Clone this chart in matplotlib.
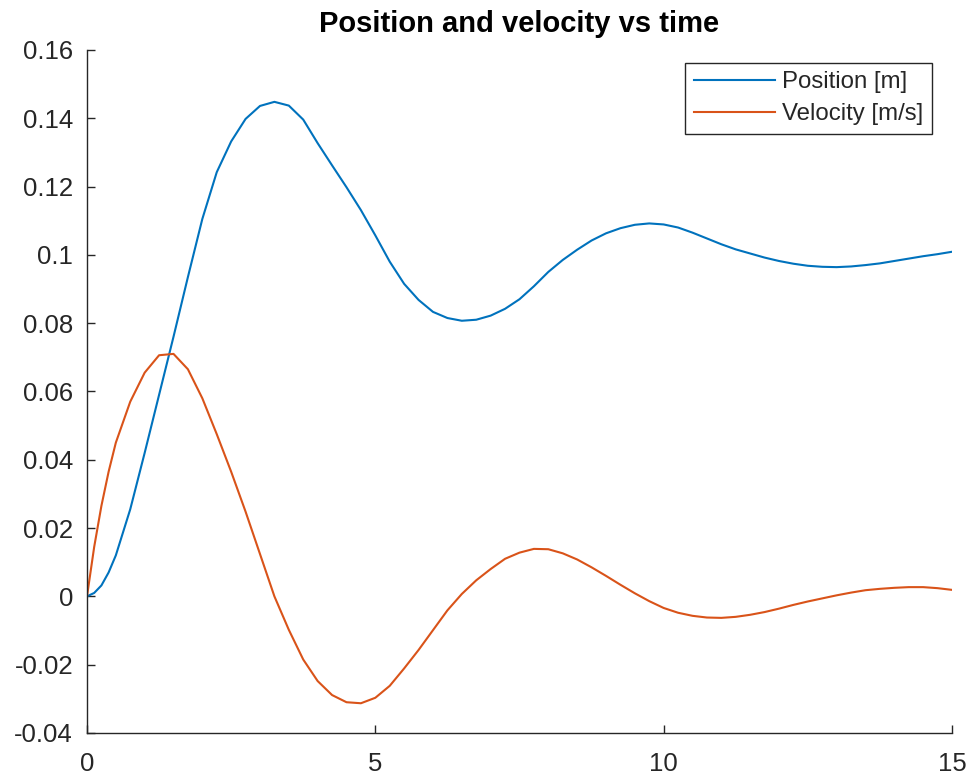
import matplotlib
matplotlib.use("Agg")
import matplotlib.pyplot as plt

# sample times [s]
time = [0, 0.125, 0.25, 0.375, 0.5, 0.75, 1.0, 1.25, 1.5, 1.75, 2.0, 2.25,
        2.5, 2.75, 3.0, 3.25, 3.5, 3.75, 4.0, 4.25, 4.5, 4.75, 5.0, 5.25,
        5.5, 5.75, 6.0, 6.25, 6.5, 6.75, 7.0, 7.25, 7.5, 7.75, 8.0, 8.25,
        8.5, 8.75, 9.0, 9.25, 9.5, 9.75, 10.0, 10.25, 10.5, 10.75, 11.0,
        11.25, 11.5, 11.75, 12.0, 12.25, 12.5, 12.75, 13.0, 13.25, 13.5,
        13.75, 14.0, 14.25, 14.5, 14.75, 15.0]

# position [m]
position = [0, 0.0010, 0.0032, 0.0070, 0.0120, 0.0255, 0.0420, 0.0590,
            0.0760, 0.0935, 0.1105, 0.1242, 0.1332, 0.1398, 0.1436, 0.1448,
            0.1437, 0.1396, 0.1327, 0.1262, 0.1198, 0.1131, 0.1057, 0.0980,
            0.0915, 0.0868, 0.0833, 0.0815, 0.0807, 0.0810, 0.0822, 0.0842,
            0.0870, 0.0908, 0.0950, 0.0985, 0.1015, 0.1042, 0.1063, 0.1078,
            0.1088, 0.1092, 0.1089, 0.1080, 0.1065, 0.1048, 0.1031, 0.1016,
            0.1004, 0.0992, 0.0982, 0.0974, 0.0968, 0.0965, 0.0964, 0.0966,
            0.0970, 0.0975, 0.0982, 0.0989, 0.0996, 0.1002, 0.1009]

# velocity [m/s]
velocity = [0, 0.0145, 0.0265, 0.0365, 0.0450, 0.0570, 0.0655, 0.0706,
            0.0710, 0.0665, 0.0580, 0.0475, 0.0365, 0.0248, 0.0124, 0.0000,
            -0.0098, -0.0185, -0.0248, -0.0289, -0.0310, -0.0313, -0.0297,
            -0.0262, -0.0211, -0.0157, -0.0099, -0.0041, 0.0007, 0.0047,
            0.0080, 0.0110, 0.0128, 0.0139, 0.0138, 0.0126, 0.0108, 0.0085,
            0.0060, 0.0034, 0.0009, -0.0014, -0.0034, -0.0048, -0.0057,
            -0.0062, -0.0063, -0.0060, -0.0054, -0.0046, -0.0036, -0.0025,
            -0.0015, -0.0006, 0.0003, 0.0011, 0.0018, 0.0022, 0.0025, 0.0027,
            0.0027, 0.0024, 0.0019]

xticks = [0, 5, 10, 15]
yticks = [-0.04, -0.02, 0, 0.02, 0.04, 0.06, 0.08, 0.1, 0.12, 0.14, 0.16]
ytick_labels = ["-0.04", "-0.02", "0", "0.02", "0.04", "0.06", "0.08",
                "0.1", "0.12", "0.14", "0.16"]

plt.rcParams["font.family"] = ["Liberation Sans", "DejaVu Sans"]
axis_color = "#262626"

fig = plt.figure(figsize=(9.72, 7.79), dpi=100)
ax = fig.add_axes([0.0895, 0.0591, 0.8899, 0.8768])

ax.plot(time, position, color="#0072BD", lw=1.5, label="Position [m]")
ax.plot(time, velocity, color="#D95319", lw=1.5, label="Velocity [m/s]")

ax.set_xlim(0, 15)
ax.set_ylim(-0.04, 0.16)
ax.set_xticks(xticks)
ax.set_xticklabels([str(x) for x in xticks])
ax.set_yticks(yticks)
ax.set_yticklabels(ytick_labels)

# only left and bottom axis lines, ticks pointing inwards
ax.spines["top"].set_visible(False)
ax.spines["right"].set_visible(False)
for side in ("left", "bottom"):
    ax.spines[side].set_color(axis_color)
    ax.spines[side].set_linewidth(1.0)
ax.tick_params(direction="in", length=6, width=1.0, colors=axis_color,
               labelsize=18.5)
ax.tick_params(axis="y", pad=10)
ax.tick_params(axis="x", pad=14)

ax.set_title("Position and velocity vs time", fontsize=21, fontweight="bold",
             color="black", pad=13)

leg = ax.legend(loc="upper right", bbox_to_anchor=(0.977, 0.981),
                fontsize=17.3, fancybox=False, framealpha=1, borderpad=0.35,
                handlelength=3.4, handletextpad=0.3, labelspacing=0.42,
                borderaxespad=0)
leg.get_frame().set_edgecolor(axis_color)
leg.get_frame().set_linewidth(1.0)
for text in leg.get_texts():
    text.set_color(axis_color)

fig.savefig("out.png", dpi=100, facecolor="white")
